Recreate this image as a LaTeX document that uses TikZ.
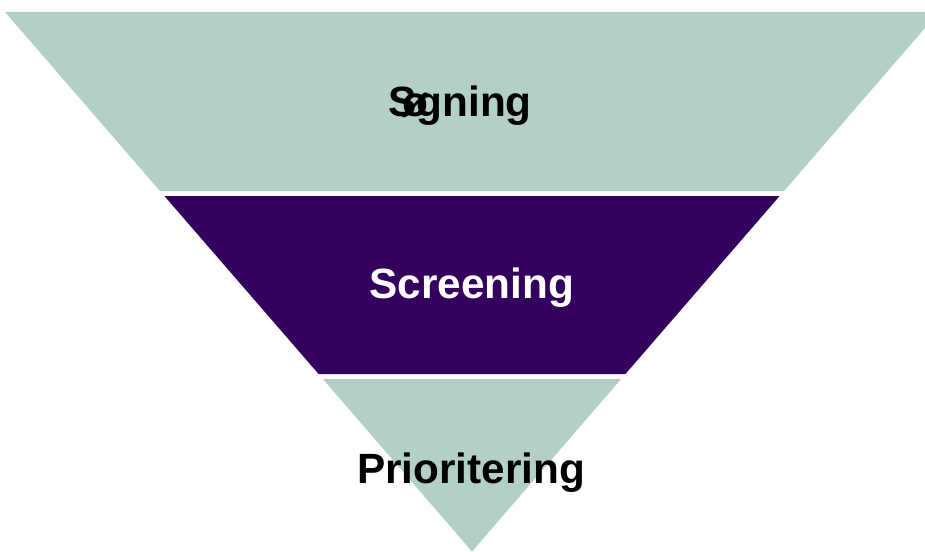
\documentclass[tikz,border=0pt]{standalone}
\usepackage{fontspec}
\setmainfont{Liberation Sans}
\definecolor{sage}{RGB}{178,208,195}
\definecolor{plum}{RGB}{51,0,94}
\tikzset{
  band/.style={draw=none},
  label/.style={font=\fontsize{42.3}{50}\selectfont\bfseries, inner sep=0pt, anchor=center},
}
\begin{document}
\begin{tikzpicture}[x=1pt,y=-1pt]
\useasboundingbox (0,0) rectangle (925,551);
\fill[band, sage] (5,12) -- (925,12) -- (925,28) -- (784,191) -- (160,191) -- cycle;
\fill[band, plum] (164.4,196) -- (779.6,196) -- (625.4,374) -- (318.6,374) -- cycle;
\fill[band, sage] (322.9,379) -- (621.1,379) -- (472,551.5) -- cycle;
\node[label] (t1) at (460,106) {S\kern-0.33em ø\kern-0.28em gning};
\node[label, text=white] (t2) at (472,288) {Screening};
\node[label] (t3) at (471,473) {Prioritering};
\end{tikzpicture}
\end{document}
